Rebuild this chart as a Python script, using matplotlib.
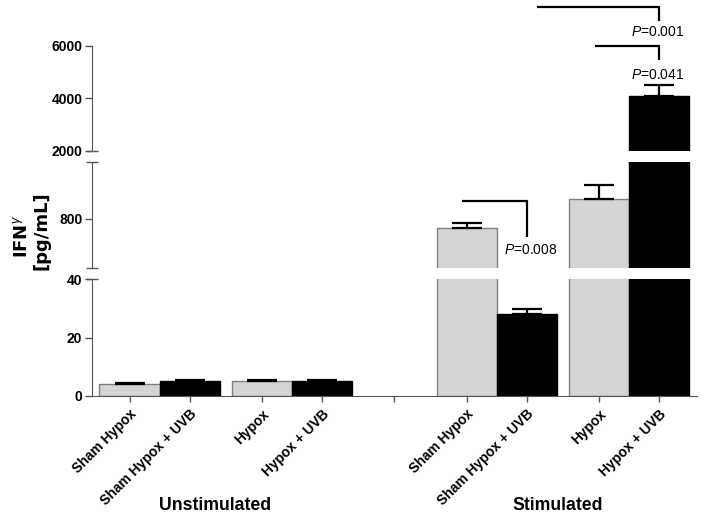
import numpy as np
import matplotlib
matplotlib.use("Agg")
import matplotlib.pyplot as plt
import matplotlib.transforms as mtransforms

plt.rcParams['font.family'] = ['Liberation Sans', 'DejaVu Sans']
plt.rcParams['mathtext.fontset'] = 'custom'
plt.rcParams['mathtext.rm'] = 'Liberation Sans'
plt.rcParams['mathtext.it'] = 'Liberation Sans:italic'
plt.rcParams['mathtext.bf'] = 'Liberation Sans:bold'

# ---- data ----
treatments = ['Sham Hypox', 'Sham Hypox + UVB', 'Hypox', 'Hypox + UVB']
groups = ['Unstimulated', 'Stimulated']
unstim_mean = [4.1, 5.2, 5.2, 5.0]
unstim_err = [0.2, 0.3, 0.2, 0.4]
stim_mean = [661, 28.1, 1078, 4107]
stim_err = [79, 1.6, 195, 407]
p_values = ['0.008', '0.041', '0.001']

# ---- layout ----
x_pos = np.array([0, 1, 2.2, 3.2, 5.6, 6.6, 7.8, 8.8])
empty_tick = 4.4
group_centers = [1.42, 7.12]
bar_colors = ['#d4d4d4', 'black'] * 4
edge_colors = ['#808080', 'black'] * 4
spine_col = '#555555'

means = unstim_mean + stim_mean
errs = unstim_err + stim_err

W, H = 704, 519
fig = plt.figure(figsize=(W / 100, H / 100), dpi=100)

def fax(top_px, bot_px):
    return fig.add_axes([92 / W, (H - bot_px) / H, (697 - 92) / W, (bot_px - top_px) / H])

ax_bot = fax(279.3, 395.7)
ax_mid = fax(162.3, 267.7)
ax_top = fax(46, 151)

segments = [(ax_bot, (0, 40), [0, 20, 40]),
            (ax_mid, (100, 1600), [800]),
            (ax_top, (2000, 6000), [2000, 4000, 6000])]

for ax, ylim, yt in segments:
    ax.bar(x_pos, means, width=1.0, color=bar_colors, edgecolor=edge_colors, linewidth=1, zorder=2)
    ax.errorbar(x_pos, means, yerr=[np.zeros(len(errs)), errs], fmt='none', ecolor='black',
                elinewidth=1.6, capsize=10.8, capthick=1.6, zorder=3)
    ax.set_ylim(*ylim)
    ax.set_xlim(-0.623, 9.427)
    ax.set_yticks(yt)
    ax.set_yticklabels([str(v) for v in yt], fontsize=10, fontweight='bold')
    for s in ['top', 'right', 'bottom']:
        ax.spines[s].set_visible(False)
    ax.spines['left'].set_color(spine_col)
    ax.tick_params(axis='y', length=5, width=1, color=spine_col, pad=2)
    if ax is not ax_bot:
        ax.set_xticks([])

# segment end caps at the axis breaks
for ax, ends in [(ax_bot, [1]), (ax_mid, [0, 1]), (ax_top, [0])]:
    ax.plot([0] * len(ends), ends, transform=ax.transAxes, ls='none', marker='_',
            ms=8, mew=1, color=spine_col, clip_on=False, zorder=5)

ax_bot.spines['bottom'].set_visible(True)
ax_bot.spines['bottom'].set_color(spine_col)
ax_bot.set_xticks(list(x_pos[:4]) + [empty_tick] + list(x_pos[4:]))
ax_bot.set_xticklabels(treatments + [''] + treatments, rotation=45, ha='right',
                       rotation_mode='anchor', fontsize=10, fontweight='bold')
ax_bot.tick_params(axis='x', length=4, width=1, color=spine_col, pad=4)

# group labels
trans = mtransforms.blended_transform_factory(ax_bot.transData, fig.transFigure)
for g, gx in zip(groups, group_centers):
    fig.text(gx, (H - 505) / H, g, transform=trans, ha='center', va='center',
             fontsize=12.7, fontweight='bold')

# y label (two lines placed separately)
fig.text(22 / W, (H - 236) / H, r'IFN$^{\gamma}$', rotation=90, ha='center', va='center',
         fontsize=13, fontweight='bold', family='DejaVu Sans')
fig.text(42 / W, (H - 231) / H, '[pg/mL]', rotation=90, ha='center', va='center',
         fontsize=13, fontweight='bold', family='DejaVu Sans')

# significance brackets
kw = dict(color='black', lw=1.6, clip_on=False, solid_capstyle='butt', zorder=6)
ax_mid.plot([5.53, 6.61, 6.61], [1049, 1049, 541], **kw)
ax_mid.text(6.67, 352, r'$P$=' + p_values[0], ha='center', va='center', fontsize=10)

ax_top.plot([7.73, 8.8, 8.8], [6011, 6011, 5467], **kw)
ax_top.text(8.78, 4895, r'$P$=' + p_values[1], ha='center', va='center', fontsize=10)

ax_top.plot([6.77, 8.8, 8.8], [7474, 7474, 6964], **kw)
ax_top.text(8.77, 6522, r'$P$=' + p_values[2], ha='center', va='center', fontsize=10, clip_on=False)

fig.savefig('out.png', dpi=100)
